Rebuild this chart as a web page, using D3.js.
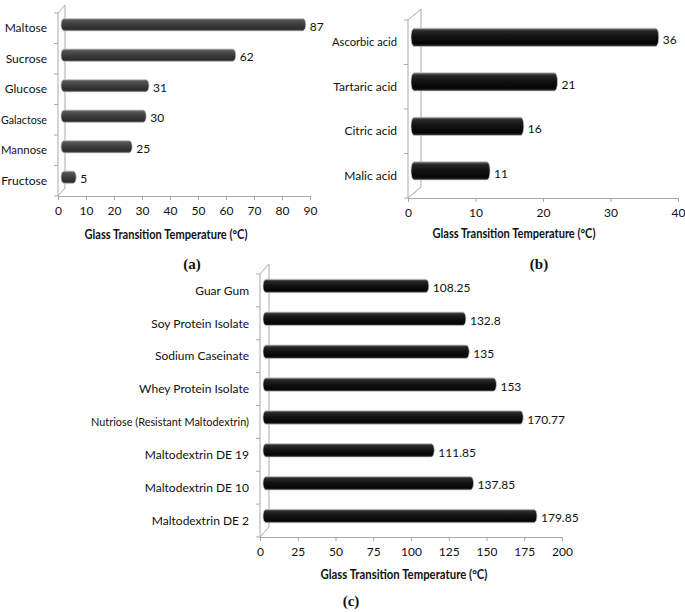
<!DOCTYPE html>
<html>
<head>
<meta charset="utf-8">
<script src="https://cdn.jsdelivr.net/npm/d3@7/dist/d3.min.js"></script>
<style>
  html, body { margin: 0; padding: 0; background: #ffffff; }
  svg { display: block; }
  text { font-family: Lato, "Open Sans", "DejaVu Sans Condensed", sans-serif; fill: #111; }
</style>
</head>
<body>
<svg id="chart" width="685" height="612"></svg>
<script>
// ---------- data ----------
const catsA = ["Maltose", "Sucrose", "Glucose", "Galactose", "Mannose", "Fructose"];
const valsA = [87, 62, 31, 30, 25, 5];
const ticksA = [0, 10, 20, 30, 40, 50, 60, 70, 80, 90];

const catsB = ["Ascorbic acid", "Tartaric acid", "Citric acid", "Malic acid"];
const valsB = [36, 21, 16, 11];
const ticksB = [0, 10, 20, 30, 40];

const catsC = ["Guar Gum", "Soy Protein Isolate", "Sodium Caseinate", "Whey Protein Isolate",
               "Nutriose (Resistant Maltodextrin)", "Maltodextrin DE 19", "Maltodextrin DE 10", "Maltodextrin DE 2"];
const valsC = [108.25, 132.8, 135, 153, 170.77, 111.85, 137.85, 179.85];
const ticksC = [0, 25, 50, 75, 100, 125, 150, 175, 200];

const axisTitle = "Glass Transition Temperature (°C)";
const panelLabels = ["(a)", "(b)", "(c)"];

// ---------- drawing ----------
const svg = d3.select("#chart");
const defs = svg.append("defs");

function makeGrad(id, stops) {
  const g = defs.append("linearGradient").attr("id", id)
    .attr("x1", 0).attr("y1", 0).attr("x2", 0).attr("y2", 1);
  stops.forEach(s => g.append("stop").attr("offset", s[0]).attr("stop-color", s[1]));
}
makeGrad("gGrey", [["0%", "#9a9a9a"], ["14%", "#565656"], ["45%", "#404040"], ["85%", "#2c2c2c"], ["100%", "#555555"]]);
makeGrad("gBlack", [["0%", "#808080"], ["14%", "#2a2a2a"], ["45%", "#131313"], ["85%", "#050505"], ["100%", "#363636"]]);

const wallColor = "#a9a9a9";

// shrink a text horizontally if it is wider than maxW
function fit(sel, maxW) {
  sel.each(function () {
    const len = this.getComputedTextLength();
    if (len > maxW) {
      d3.select(this).attr("textLength", maxW).attr("lengthAdjust", "spacingAndGlyphs");
    }
  });
}

function drawPanel(cfg) {
  const g = svg.append("g");
  const x = d3.scaleLinear().domain(cfg.domain).range([cfg.x0, cfg.x1]);
  const y = d3.scaleBand().domain(cfg.cats).range([cfg.yTop, cfg.yBottom]).padding(0);
  const step = y.step();
  const dx = cfg.dx, dy = cfg.dy;

  // 3D side wall
  const wall = g.append("g").attr("fill", "none").attr("stroke", wallColor).attr("stroke-width", 1);
  wall.append("path").attr("d",
    `M${cfg.x0},${cfg.yBottom}L${cfg.x0},${cfg.yTop}L${cfg.x0 + dx},${cfg.yTop - dy}L${cfg.x0 + dx},${cfg.yBottom - dy}L${cfg.x0},${cfg.yBottom}`);
  d3.range(cfg.cats.length + 1).forEach(i => {
    const yy = cfg.yTop + i * step;
    wall.append("line").attr("x1", cfg.x0 - 4).attr("x2", cfg.x0).attr("y1", yy).attr("y2", yy);
  });

  // x axis
  const ax = g.append("g").attr("transform", `translate(0,${cfg.yBottom})`)
    .call(d3.axisBottom(x).tickValues(cfg.ticks).tickSize(4).tickSizeOuter(0).tickPadding(6));
  ax.attr("font-family", null).attr("font-size", null);
  ax.select(".domain").attr("stroke", wallColor);
  ax.selectAll(".tick line").attr("stroke", wallColor);
  ax.selectAll(".tick text").attr("font-size", cfg.fs).attr("fill", "#111");

  // bars
  const bh = step * 0.41;
  const rows = cfg.cats.map((c, i) => ({ c, v: cfg.vals[i] }));
  g.selectAll("rect.bar").data(rows).enter().append("rect")
    .attr("class", "bar")
    .attr("x", d => x(0) + 3)
    .attr("y", d => y(d.c) + step / 2 - dy * 0.45 - bh / 2)
    .attr("width", d => x(d.v) - x(0) + dx * 0.6 - 3)
    .attr("height", bh)
    .attr("rx", 3).attr("ry", bh / 2)
    .attr("fill", `url(#${cfg.grad})`)
    .attr("stroke", "#c8c8c8").attr("stroke-width", 0.7);

  // value labels
  g.selectAll("text.val").data(rows).enter().append("text")
    .attr("class", "val")
    .attr("x", d => x(d.v) + dx * 0.6 + 4)
    .attr("y", d => y(d.c) + step / 2 - dy * 0.45 + bh * 0.15)
    .attr("dy", "0.35em")
    .attr("font-size", cfg.fs)
    .text(d => String(d.v));

  // category labels
  const cl = g.selectAll("text.cat").data(rows).enter().append("text")
    .attr("class", "cat")
    .attr("x", cfg.labelX)
    .attr("y", d => y(d.c) + step / 2)
    .attr("dy", "0.35em")
    .attr("text-anchor", "end")
    .attr("font-size", cfg.fs)
    .text(d => d.c);
  fit(cl, cfg.labelMax);

  // axis title
  const t = g.append("text")
    .attr("x", cfg.titleX).attr("y", cfg.titleY).attr("dy", "0.35em")
    .attr("text-anchor", "middle").attr("font-size", 12.5).attr("font-weight", "bold")
    .text(axisTitle);
  fit(t, cfg.titleW);

  // panel label
  g.append("text")
    .attr("x", cfg.panelX).attr("y", cfg.panelY).attr("dy", "0.35em")
    .attr("text-anchor", "middle").attr("font-size", 15).attr("font-weight", "bold")
    .style("font-family", "'Liberation Serif', 'Times New Roman', serif")
    .text(cfg.panel);
}

drawPanel({ cats: catsA, vals: valsA, ticks: ticksA, domain: [0, 90],
  x0: 58, x1: 310, yTop: 13, yBottom: 196, dx: 7, dy: 8, grad: "gGrey", fs: 12,
  labelX: 47, labelMax: 46, titleX: 166, titleY: 235, titleW: 163,
  panelX: 192, panelY: 264, panel: panelLabels[0] });

drawPanel({ cats: catsB, vals: valsB, ticks: ticksB, domain: [0, 40],
  x0: 408, x1: 678, yTop: 20, yBottom: 198, dx: 13, dy: 11, grad: "gBlack", fs: 12,
  labelX: 397, labelMax: 65, titleX: 514, titleY: 234, titleW: 163,
  panelX: 539, panelY: 264, panel: panelLabels[1] });

drawPanel({ cats: catsC, vals: valsC, ticks: ticksC, domain: [0, 200],
  x0: 260, x1: 562, yTop: 274, yBottom: 537, dx: 9, dy: 10, grad: "gBlack", fs: 12,
  labelX: 249, labelMax: 158, titleX: 404, titleY: 575, titleW: 167,
  panelX: 351, panelY: 601, panel: panelLabels[2] });
</script>
</body>
</html>
